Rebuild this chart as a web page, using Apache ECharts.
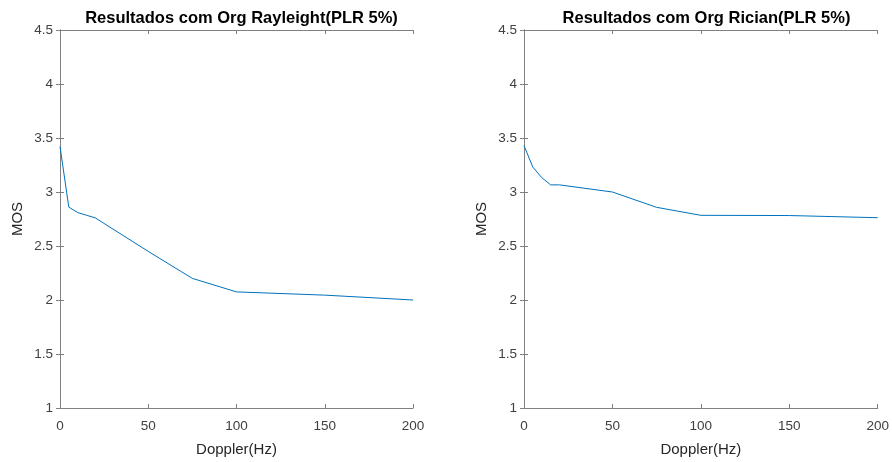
<!DOCTYPE html>
<html>
<head>
<meta charset="utf-8">
<script src="https://cdn.jsdelivr.net/npm/echarts@6/dist/echarts.min.js"></script>
<style>html,body{margin:0;padding:0;background:#fff}#c{width:892px;height:462px}</style>
</head>
<body>
<div id="c"></div>
<script>
const doppler = [0, 5, 10, 15, 20, 50, 75, 100, 150, 200];
const mosRayleigh = [3.42, 2.86, 2.81, 2.785, 2.76, 2.45, 2.20, 2.075, 2.045, 2.0];
const mosRician = [3.43, 3.23, 3.134, 3.066, 3.066, 3.0, 2.858, 2.784, 2.782, 2.762];
const titles = ['Resultados com Org Rayleight(PLR 5%)', 'Resultados com Org Rician(PLR 5%)'];
const xTicks = [0, 50, 100, 150, 200];
const yTicks = [1, 1.5, 2, 2.5, 3, 3.5, 4, 4.5];
const xName = 'Doppler(Hz)';
const yName = 'MOS';

const font = 'Liberation Sans, Arial, Helvetica, sans-serif';
const axisColor = '#808080';
const textColor = '#404040';
const nameColor = '#262626';
const grids = [
  {left: 60, top: 30, width: 353, height: 380},
  {left: 524, top: 30, width: 355, height: 380}
];
const xAxes = [], yAxes = [];
grids.forEach((g, i) => {
  const base = {
    gridIndex: i, type: 'value', min: xTicks[0], max: xTicks[xTicks.length - 1], interval: 50,
    axisLine: {show: true, lineStyle: {color: axisColor, width: 1}},
    axisTick: {show: true, inside: true, length: 4, lineStyle: {color: axisColor}},
    splitLine: {show: false}
  };
  xAxes.push(Object.assign({}, base, {
    position: 'bottom',
    name: xName, nameLocation: 'middle', nameGap: 34,
    nameTextStyle: {fontFamily: font, fontSize: 15, color: nameColor},
    axisLabel: {fontFamily: font, fontSize: 13.5, color: textColor, margin: 11}
  }));
  xAxes.push(Object.assign({}, base, {position: 'top', axisLabel: {show: false}}));
  const ybase = {
    gridIndex: i, type: 'value', min: yTicks[0], max: yTicks[yTicks.length - 1], interval: 0.5,
    axisLine: {show: true, lineStyle: {color: axisColor, width: 1}},
    axisTick: {show: true, inside: true, length: 4, lineStyle: {color: axisColor}},
    splitLine: {show: false}
  };
  yAxes.push(Object.assign({}, ybase, {
    position: 'left',
    name: yName, nameLocation: 'middle', nameGap: 35, nameRotate: 90,
    nameTextStyle: {fontFamily: font, fontSize: 15, color: nameColor},
    axisLabel: {fontFamily: font, fontSize: 13.5, color: textColor, margin: 7}
  }));
  yAxes.push(Object.assign({}, ybase, {position: 'right', axisLabel: {show: false}}));
});

const chart = echarts.init(document.getElementById('c'), null, {renderer: 'canvas'});
chart.setOption({
  animation: false,
  backgroundColor: '#ffffff',
  title: titles.map((t, i) => ({
    text: t, left: grids[i].left + grids[i].width / 2, top: 5, textAlign: 'center',
    textStyle: {fontFamily: font, fontSize: 16.5, fontWeight: 'bold', color: '#000'}
  })),
  grid: grids,
  xAxis: xAxes,
  yAxis: yAxes,
  series: [
    {type: 'line', xAxisIndex: 0, yAxisIndex: 0, data: doppler.map((d, k) => [d, mosRayleigh[k]]),
     showSymbol: false, lineStyle: {color: '#0072BD', width: 1}},
    {type: 'line', xAxisIndex: 2, yAxisIndex: 2, data: doppler.map((d, k) => [d, mosRician[k]]),
     showSymbol: false, lineStyle: {color: '#0072BD', width: 1}}
  ]
});
</script>
</body>
</html>
